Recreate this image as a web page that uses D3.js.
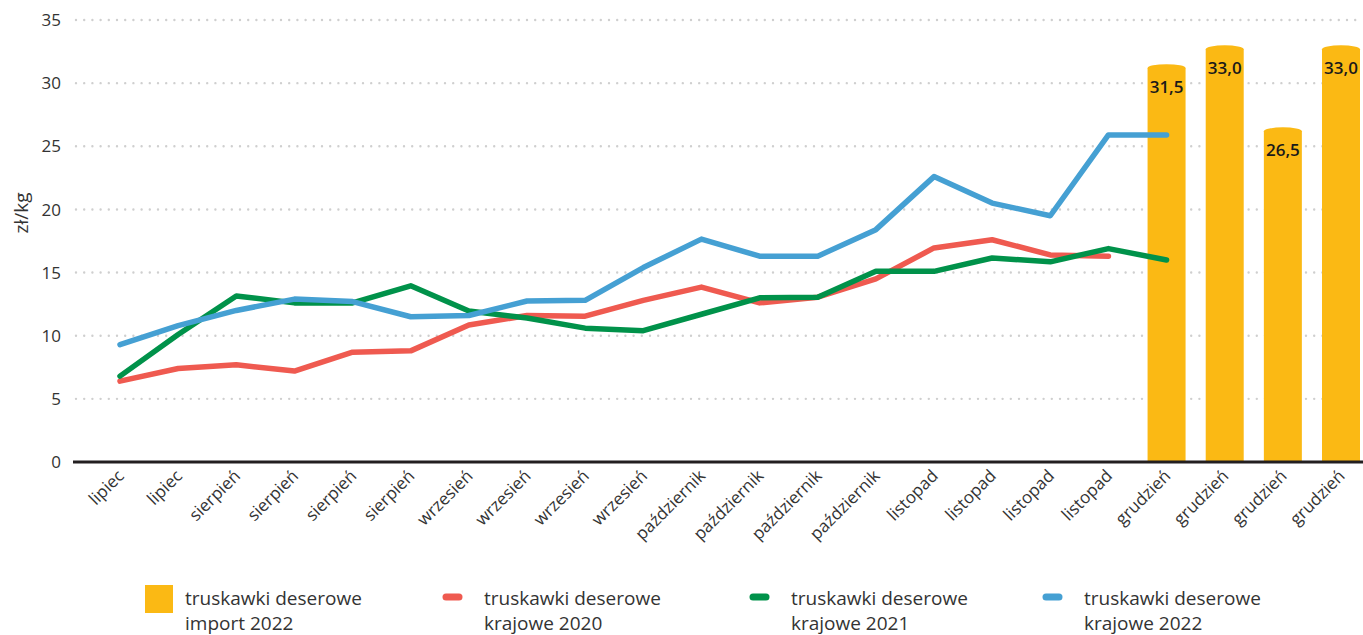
<!DOCTYPE html>
<html>
<head>
<meta charset="utf-8">
<script src="https://cdn.jsdelivr.net/npm/d3@7"></script>
<style>
  body { margin: 0; background: #fff; }
  svg text { font-family: "Open Sans", "DejaVu Sans", sans-serif; fill: #333; }
  .legendText { font-family: "Liberation Sans Narrow", "Open Sans", sans-serif; font-size: 19px; fill: #333; }
</style>
</head>
<body>
<div id="chart"></div>
<script>
// months on the x axis (one entry per data point)
const months = ["lipiec", "lipiec", "sierpień", "sierpień", "sierpień", "sierpień",
    "wrzesień", "wrzesień", "wrzesień", "wrzesień",
    "październik", "październik", "październik", "październik",
    "listopad", "listopad", "listopad", "listopad",
    "grudzień", "grudzień", "grudzień", "grudzień"];

const yTicks = [0, 5, 10, 15, 20, 25, 30, 35];

// import 2022 bars (only in grudzień, index 18..21)
const importStart = 18;
const import2022 = [31.5, 33.0, 26.5, 33.0];

const krajowe2020 = [6.4, 7.4, 7.7, 7.2, 8.7, 8.8, 10.85, 11.6, 11.55, 12.8, 13.85, 12.6, 13.05, 14.5, 16.95, 17.6, 16.4, 16.3];
const krajowe2021 = [6.8, 10.1, 13.15, 12.6, 12.6, 13.95, 11.95, 11.4, 10.6, 10.4, 11.7, 13.0, 13.05, 15.1, 15.1, 16.15, 15.85, 16.9, 16.0];
const krajowe2022 = [9.3, 10.8, 12.0, 12.9, 12.7, 11.5, 11.6, 12.75, 12.8, 15.4, 17.65, 16.3, 16.3, 18.4, 22.6, 20.5, 19.5, 25.9, 25.9];

const legendItems = [
    { name: ["truskawki deserowe", "import 2022"], color: "#FBB914", type: "bar" },
    { name: ["truskawki deserowe", "krajowe 2020"], color: "#EF5A50", type: "line" },
    { name: ["truskawki deserowe", "krajowe 2021"], color: "#00924A", type: "line" },
    { name: ["truskawki deserowe", "krajowe 2022"], color: "#45A0D3", type: "line" }
];

const lineSeries = [
    { values: krajowe2020, color: "#EF5A50" },
    { values: krajowe2021, color: "#00924A" },
    { values: krajowe2022, color: "#45A0D3" }
];

const dimensions = { width: 1363, height: 635, left: 73, right: 1363, top: 20, bottom: 462 };

const wrapper = d3.select("#chart")
    .append("svg")
    .attr("width", dimensions.width)
    .attr("height", dimensions.height)

const xScale = d3.scalePoint()
    .domain(d3.range(months.length))
    .range([120, 1341])

const yScale = d3.scaleLinear()
    .domain([0, 35])
    .range([dimensions.bottom, dimensions.top])

//dotted grid
wrapper.append("g")
    .selectAll("line")
    .data(yTicks.filter(d => d > 0))
    .enter().append("line")
    .attr("x1", 76)
    .attr("x2", dimensions.right)
    .attr("y1", d => yScale(d))
    .attr("y2", d => yScale(d))
    .style("stroke", "#cfcfcf")
    .style("stroke-width", 2.4)
    .style("stroke-linecap", "round")
    .style("stroke-dasharray", "0,8.2")

//y tick labels
wrapper.append("g")
    .selectAll("text")
    .data(yTicks)
    .enter().append("text")
    .attr("x", 61)
    .attr("y", d => yScale(d))
    .attr("dy", "0.36em")
    .attr("text-anchor", "end")
    .style("font-size", "17px")
    .text(d => d)

//y title
wrapper.append("text")
    .attr("transform", `translate(28, 213) rotate(-90)`)
    .attr("text-anchor", "middle")
    .style("font-size", "19px")
    .text("zł/kg")

//bars with rounded caps
const barWidth = 38;
const capRy = 4;
const barPath = (d, i) => {
    const cx = xScale(importStart + i);
    const x0 = cx - barWidth / 2, x1 = cx + barWidth / 2;
    const top = yScale(d) + capRy;
    const base = yScale(0);
    return `M${x0},${base} L${x0},${top} A${barWidth / 2},${capRy} 0 0 1 ${x1},${top} L${x1},${base} Z`;
};

wrapper.append("g")
    .selectAll("path")
    .data(import2022)
    .enter().append("path")
    .attr("d", barPath)
    .style("fill", "#FBB914")

//lines
const lineGen = d3.line()
    .x((d, i) => xScale(i))
    .y(d => yScale(d))

wrapper.append("g")
    .selectAll("path")
    .data(lineSeries)
    .enter().append("path")
    .attr("d", d => lineGen(d.values))
    .style("fill", "none")
    .style("stroke", d => d.color)
    .style("stroke-width", 5.5)
    .style("stroke-linecap", "round")
    .style("stroke-linejoin", "round")

//bar labels
wrapper.append("g")
    .selectAll("text")
    .data(import2022)
    .enter().append("text")
    .attr("x", (d, i) => xScale(importStart + i))
    .attr("y", d => yScale(d) + 29)
    .attr("text-anchor", "middle")
    .style("font-size", "17px")
    .style("font-weight", 600)
    .style("fill", "#1a1a1a")
    .text(d => d3.format(".1f")(d).replace(".", ","))

//x axis line
wrapper.append("line")
    .attr("x1", dimensions.left)
    .attr("x2", dimensions.right)
    .attr("y1", yScale(0))
    .attr("y2", yScale(0))
    .style("stroke", "#231f20")
    .style("stroke-width", 3)

//x tick labels
wrapper.append("g")
    .selectAll("text")
    .data(months)
    .enter().append("text")
    .attr("transform", (d, i) => `translate(${xScale(i) + 5}, ${yScale(0) + 15}) rotate(-45)`)
    .attr("text-anchor", "end")
    .style("font-size", "17px")
    .text(d => d)

//legend
const legendX = [145, 443, 750, 1043];
const legend = wrapper.append("g")
    .selectAll("g")
    .data(legendItems)
    .enter().append("g")
    .attr("transform", (d, i) => `translate(${legendX[i]}, 585)`)

legend.filter(d => d.type == "bar").append("rect")
    .attr("width", 28)
    .attr("height", 28)
    .style("fill", d => d.color)

legend.filter(d => d.type == "line").append("line")
    .attr("x1", 3)
    .attr("x2", 16)
    .attr("y1", 12)
    .attr("y2", 12)
    .style("stroke", d => d.color)
    .style("stroke-width", 7)
    .style("stroke-linecap", "round")

legend.append("text")
    .attr("class", "legendText")
    .attr("x", d => d.type == "bar" ? 40 : 41)
    .attr("y", 20)
    .text(d => d.name[0])

legend.append("text")
    .attr("class", "legendText")
    .attr("x", d => d.type == "bar" ? 40 : 41)
    .attr("y", 45)
    .text(d => d.name[1])
</script>
</body>
</html>
